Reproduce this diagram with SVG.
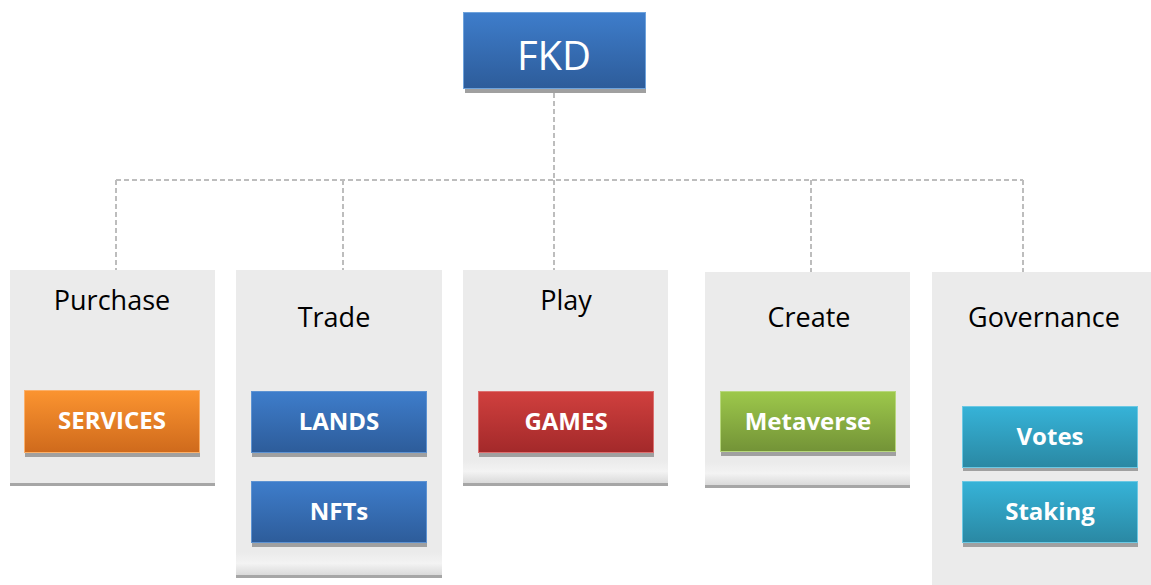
<svg xmlns="http://www.w3.org/2000/svg" width="1151" height="585" viewBox="0 0 1151 585">
  <defs>
    <linearGradient id="gBlue" x1="0" y1="0" x2="0" y2="1">
      <stop offset="0" stop-color="#3E7DCB"/>
      <stop offset="1" stop-color="#2D5C9A"/>
    </linearGradient>
    <linearGradient id="gOrange" x1="0" y1="0" x2="0" y2="1">
      <stop offset="0" stop-color="#FB9430"/>
      <stop offset="1" stop-color="#CF6A1C"/>
    </linearGradient>
    <linearGradient id="gRed" x1="0" y1="0" x2="0" y2="1">
      <stop offset="0" stop-color="#D0403E"/>
      <stop offset="1" stop-color="#A3292A"/>
    </linearGradient>
    <linearGradient id="gGreen" x1="0" y1="0" x2="0" y2="1">
      <stop offset="0" stop-color="#9DC84B"/>
      <stop offset="1" stop-color="#739337"/>
    </linearGradient>
    <linearGradient id="gCyan" x1="0" y1="0" x2="0" y2="1">
      <stop offset="0" stop-color="#36B3D8"/>
      <stop offset="1" stop-color="#2A88A3"/>
    </linearGradient>
    <linearGradient id="gFoot" x1="0" y1="0" x2="0" y2="1">
      <stop offset="0" stop-color="#EBEBEB"/>
      <stop offset="0.5" stop-color="#F3F3F3"/>
      <stop offset="1" stop-color="#DADADA"/>
    </linearGradient>
  </defs>
  <style>
    .panel { fill: #EBEBEB; }
    .band { fill: #A6A6A6; }
    .shadow { fill: #A0A0A0; }
    .head { font-family: "Open Sans", "Liberation Sans", sans-serif; font-size: 27px; fill: #000; text-anchor: middle; }
    .lbl { font-family: "Open Sans", "Liberation Sans", sans-serif; font-size: 24px; font-weight: bold; fill: #FFF; text-anchor: middle; }
    .title { font-family: "Open Sans", "Liberation Sans", sans-serif; font-size: 40px; fill: #FFF; text-anchor: middle; }
    .conn { fill: none; stroke: #BDBDBD; stroke-width: 2; stroke-dasharray: 5 3; }
  </style>

  <!-- connectors -->
  <g id="connectors">
    <path class="conn" d="M554 93 V180"/>
    <path class="conn" d="M116 180 H1023"/>
    <path class="conn" d="M116 180 V270"/>
    <path class="conn" d="M343 180 V270"/>
    <path class="conn" d="M554 180 V270"/>
    <path class="conn" d="M811 180 V272"/>
    <path class="conn" d="M1023 180 V272"/>
  </g>

  <!-- root -->
  <g id="fkd">
    <rect class="shadow" x="465" y="88" width="181" height="5"/>
    <rect x="463.5" y="12.5" width="182" height="76" fill="url(#gBlue)" stroke="#6FA3DC" stroke-width="1"/>
    <text class="title" x="554" y="70">FKD</text>
  </g>

  <!-- Purchase -->
  <g id="purchase">
    <rect class="panel" x="10" y="270" width="205" height="213"/>
    <rect class="band" x="10" y="483" width="205" height="3"/>
    <text class="head" x="112" y="310">Purchase</text>
    <g id="services">
      <rect class="shadow" x="25" y="453" width="175" height="4"/>
      <rect x="24.5" y="390.5" width="175" height="62" fill="url(#gOrange)" stroke="#FBB06A" stroke-width="1"/>
      <text class="lbl" x="112" y="429">SERVICES</text>
    </g>
  </g>

  <!-- Trade -->
  <g id="trade">
    <rect class="panel" x="236" y="270" width="206" height="305"/>
    <rect x="236" y="552" width="206" height="23" fill="url(#gFoot)"/>
    <rect class="band" x="236" y="575" width="206" height="3"/>
    <text class="head" x="334" y="327">Trade</text>
    <g id="lands">
      <rect class="shadow" x="252" y="453" width="175" height="4"/>
      <rect x="251.5" y="391.5" width="175" height="61" fill="url(#gBlue)" stroke="#5E93D2" stroke-width="1"/>
      <text class="lbl" x="339" y="430">LANDS</text>
    </g>
    <g id="nfts">
      <rect class="shadow" x="252" y="543" width="175" height="4"/>
      <rect x="251.5" y="481.5" width="175" height="61" fill="url(#gBlue)" stroke="#5E93D2" stroke-width="1"/>
      <text class="lbl" x="339" y="520">NFTs</text>
    </g>
  </g>

  <!-- Play -->
  <g id="play">
    <rect class="panel" x="463" y="270" width="205" height="213"/>
    <rect x="463" y="460" width="205" height="23" fill="url(#gFoot)"/>
    <rect class="band" x="463" y="483" width="205" height="3"/>
    <text class="head" x="566" y="310">Play</text>
    <g id="games">
      <rect class="shadow" x="479" y="453" width="175" height="4"/>
      <rect x="478.5" y="391.5" width="175" height="61" fill="url(#gRed)" stroke="#DC7070" stroke-width="1"/>
      <text class="lbl" x="566" y="430">GAMES</text>
    </g>
  </g>

  <!-- Create -->
  <g id="create">
    <rect class="panel" x="705" y="272" width="205" height="213"/>
    <rect x="705" y="462" width="205" height="23" fill="url(#gFoot)"/>
    <rect class="band" x="705" y="485" width="205" height="3"/>
    <text class="head" x="809" y="327">Create</text>
    <g id="metaverse">
      <rect class="shadow" x="721" y="452" width="175" height="4"/>
      <rect x="720.5" y="391.5" width="175" height="60" fill="url(#gGreen)" stroke="#B7D77D" stroke-width="1"/>
      <text class="lbl" x="808" y="430">Metaverse</text>
    </g>
  </g>

  <!-- Governance -->
  <g id="governance">
    <rect class="panel" x="932" y="272" width="225" height="313"/>
    <text class="head" x="1044" y="327">Governance</text>
    <g id="votes">
      <rect class="shadow" x="963" y="467" width="175" height="4"/>
      <rect x="962.5" y="406.5" width="175" height="61" fill="url(#gCyan)" stroke="#6CC8E3" stroke-width="1"/>
      <text class="lbl" x="1050" y="445">Votes</text>
    </g>
    <g id="staking">
      <rect class="shadow" x="963" y="543" width="175" height="4"/>
      <rect x="962.5" y="481.5" width="175" height="61" fill="url(#gCyan)" stroke="#6CC8E3" stroke-width="1"/>
      <text class="lbl" x="1050" y="520">Staking</text>
    </g>
  </g>
</svg>
